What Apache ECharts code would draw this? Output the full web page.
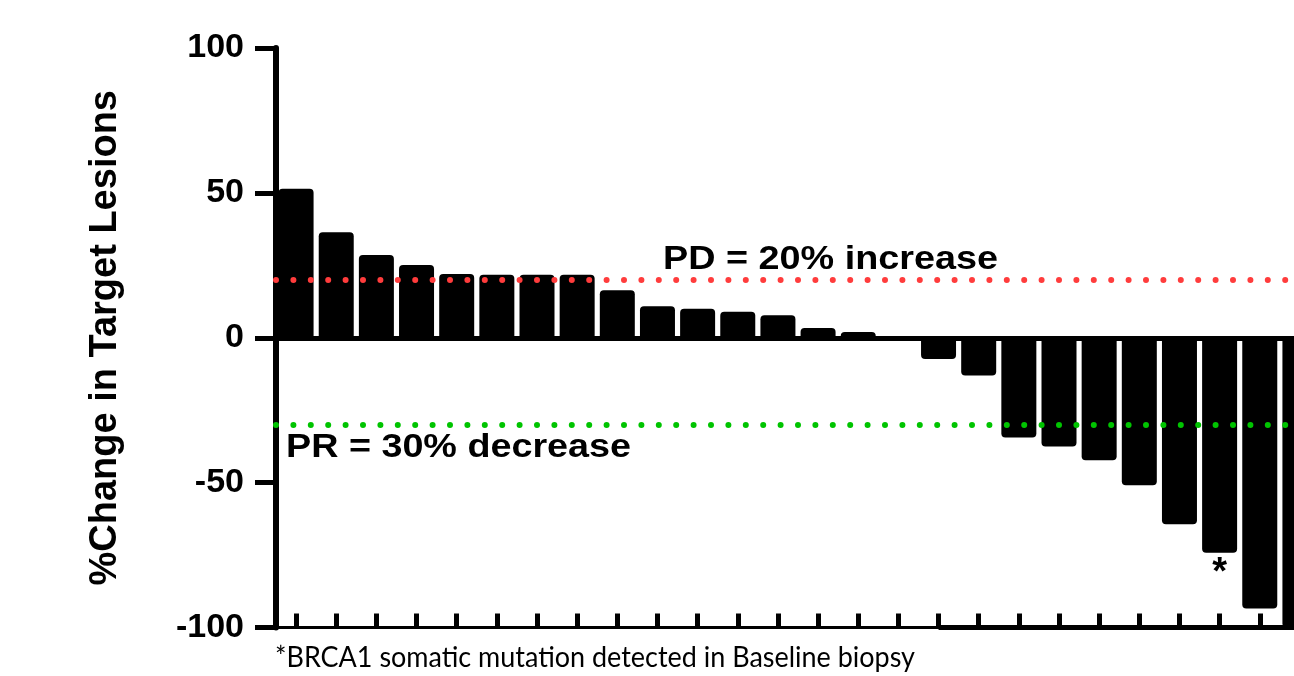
<!DOCTYPE html>
<html>
<head>
<meta charset="utf-8">
<title>Waterfall plot – % change in target lesions</title>
<script src="https://cdn.jsdelivr.net/npm/echarts@6/dist/echarts.min.js"></script>
<style>
  html, body { margin: 0; padding: 0; background: #ffffff; overflow: hidden; width: 1294px; height: 676px; }
  /* the drawing surface is wider than the page, so the last bar is cut off at the right edge */
  #chart { width: 1320px; height: 676px; }
</style>
</head>
<body>
<div id="chart"></div>
<script>
// Best % change in target lesions per patient, sorted high to low
const patients = ['P01','P02','P03','P04','P05','P06','P07','P08','P09','P10','P11','P12','P13',
                  'P14','P15','P16','P17','P18','P19','P20','P21','P22','P23','P24','P25','P26'];
const changePct = [51.4, 36.4, 28.6, 25.1, 22.0, 21.7, 21.7, 21.7, 16.4, 10.9, 10.0, 9.0, 7.8,
                   3.4, 2.0, 0, -7.3, -13.0, -34.4, -37.5, -42.3, -50.9, -64.4, -74.2, -93.4, -100];
// Patients with a BRCA1 somatic mutation in the baseline biopsy
const brcaPatients = ['P24'];
// Value axis
const yTicks = [-100, -50, 0, 50, 100];
// Response thresholds
const pdThreshold = 20;
const prThreshold = -30;
const pdText = 'PD = 20% increase';
const prText = 'PR = 30% decrease';
const footnoteText = '*BRCA1 somatic mutation detected in Baseline biopsy';

const BOLD = '"Liberation Sans", Arial, Helvetica, sans-serif';

// width of a string in a given font, used to stretch annotation text to the layout width
const measureCtx = document.createElement('canvas').getContext('2d');
function textWidth(txt, font) { measureCtx.font = font; return measureCtx.measureText(txt).width; }

function stretchedText(txt, font, x, y, targetWidth) {
  return {
    type: 'text', x: x, y: y, z: 100,
    scaleX: targetWidth / textWidth(txt, font), scaleY: 1,
    style: { text: txt, font: font, fill: '#000', align: 'left', verticalAlign: 'top' }
  };
}

const chart = echarts.init(document.getElementById('chart'), null, { renderer: 'canvas' });

const barData = changePct.map((v, i) => {
  const item = {
    value: v,
    itemStyle: { borderRadius: v >= 0 ? [4, 4, 0, 0] : [0, 0, 4, 4] }
  };
  if (brcaPatients.includes(patients[i])) {
    item.label = {
      show: true, position: 'bottom', distance: 2, formatter: '*',
      fontFamily: BOLD, fontWeight: 'bold', fontSize: 38, color: '#000'
    };
  }
  return item;
});

const dotted = (color) => ({ color: color, width: 6, type: [0, 17.4], cap: 'round' });

chart.setOption({
  animation: false,
  backgroundColor: '#ffffff',
  grid: { left: 276, right: 0, top: 48, bottom: 48.5, containLabel: false },
  xAxis: {
    type: 'category',
    data: patients,
    boundaryGap: true,
    axisLine: { show: true, onZero: false, lineStyle: { color: '#000', width: 3 } },
    axisTick: { show: true, inside: true, length: 14, alignWithLabel: true, interval: 0,
                lineStyle: { color: '#000', width: 5 } },
    axisLabel: { show: false },
    splitLine: { show: false }
  },
  yAxis: {
    type: 'value',
    min: yTicks[0], max: yTicks[yTicks.length - 1], interval: yTicks[1] - yTicks[0],
    name: '%Change in Target Lesions',
    nameLocation: 'middle',
    nameGap: 151,
    nameTextStyle: { fontFamily: BOLD, fontWeight: 'bold', fontSize: 38, color: '#000' },
    axisLine: { show: true, onZero: false, lineStyle: { color: '#000', width: 6 } },
    axisTick: { show: true, inside: false, length: 21, lineStyle: { color: '#000', width: 5 } },
    axisLabel: { show: true, margin: 32, fontFamily: BOLD, fontWeight: 'bold', fontSize: 34, color: '#000' },
    splitLine: { show: false }
  },
  series: [{
    type: 'bar',
    data: barData,
    barWidth: 35,
    itemStyle: { color: '#000' },
    emphasis: { disabled: true },
    markLine: {
      silent: true,
      symbol: 'none',
      label: { show: false },
      emphasis: { disabled: true },
      data: [
        { yAxis: 0, lineStyle: { color: '#000', width: 5, type: 'solid' } },
        { yAxis: pdThreshold, lineStyle: dotted('#ff3c3c') },
        { yAxis: prThreshold, lineStyle: dotted('#00c400') },
        [ { coord: [patients[16], yTicks[0]] },
          { coord: [patients[patients.length - 1], yTicks[0]], lineStyle: { color: '#000', width: 5, type: 'solid' } } ]
      ]
    }
  }],
  graphic: [
    stretchedText(pdText, 'bold 33px ' + BOLD, 663, 243, 335),
    stretchedText(prText, 'bold 33px ' + BOLD, 286, 431.5, 345),
    stretchedText(footnoteText, '28px Lato, "Open Sans", sans-serif', 275, 644, 640)
  ]
});
</script>
</body>
</html>
